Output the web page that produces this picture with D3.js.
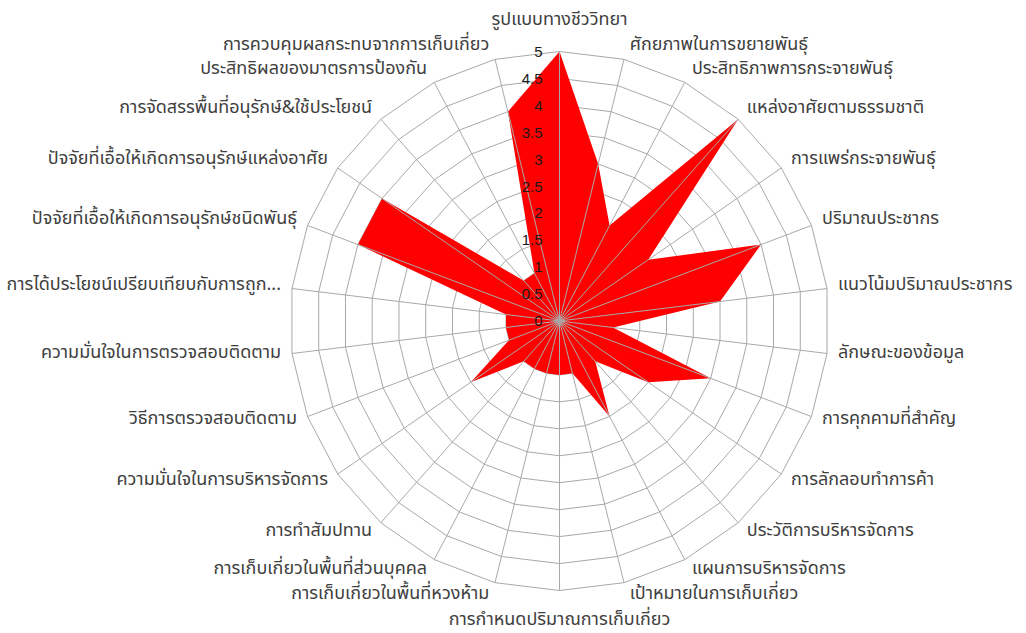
<!DOCTYPE html>
<html>
<head>
<meta charset="utf-8">
<script src="https://cdn.jsdelivr.net/npm/d3@7"></script>
<style>
  html, body { margin: 0; padding: 0; background: #ffffff; }
  svg { display: block; }
  .cat { font-family: "Leelawadee UI", "Noto Sans Thai", "Tahoma", "Noto Sans", sans-serif; font-size: 18px; fill: #404040; }
  .tick { font-family: "Liberation Sans", "Noto Sans", sans-serif; font-size: 15px; fill: #1a1a1a; }
</style>
</head>
<body>
<svg id="chart" width="1026" height="633"></svg>
<script>
// Radar axes, clockwise from the top
const categories = [
  "รูปแบบทางชีววิทยา",
  "ศักยภาพในการขยายพันธุ์",
  "ประสิทธิภาพการกระจายพันธุ์",
  "แหล่งอาศัยตามธรรมชาติ",
  "การแพร่กระจายพันธุ์",
  "ปริมาณประชากร",
  "แนวโน้มปริมาณประชากร",
  "ลักษณะของข้อมูล",
  "การคุกคามที่สำคัญ",
  "การลักลอบทำการค้า",
  "ประวัติการบริหารจัดการ",
  "แผนการบริหารจัดการ",
  "เป้าหมายในการเก็บเกี่ยว",
  "การกำหนดปริมาณการเก็บเกี่ยว",
  "การเก็บเกี่ยวในพื้นที่หวงห้าม",
  "การเก็บเกี่ยวในพื้นที่ส่วนบุคคล",
  "การทำสัมปทาน",
  "ความมั่นใจในการบริหารจัดการ",
  "วิธีการตรวจสอบติดตาม",
  "ความมั่นใจในการตรวจสอบติดตาม",
  "การได้ประโยชน์เปรียบเทียบกับการถูก...",
  "ปัจจัยที่เอื้อให้เกิดการอนุรักษ์ชนิดพันธุ์",
  "ปัจจัยที่เอื้อให้เกิดการอนุรักษ์แหล่งอาศัย",
  "การจัดสรรพื้นที่อนุรักษ์&ใช้ประโยชน์",
  "ประสิทธิผลของมาตรการป้องกัน",
  "การควบคุมผลกระทบจากการเก็บเกี่ยว"
];

// Score on each axis
const scores = [5, 3, 2, 5, 2, 4, 3, 1, 3, 2, 1, 2, 1, 1, 1, 1, 1, 2, 1, 1, 1, 4, 4, 1, 1, 4];

// Radial axis ticks
const tickValues = [0, 0.5, 1, 1.5, 2, 2.5, 3, 3.5, 4, 4.5, 5];
const tickLabels = ["0", "0.5", "1", "1.5", "2", "2.5", "3", "3.5", "4", "4.5", "5"];

const cx = 559.5, cy = 321, R = 269.5;
const n = categories.length;

const svg = d3.select("#chart");
const g = svg.append("g").attr("transform", `translate(${cx},${cy})`);

const r = d3.scaleLinear().domain([0, 5]).range([0, R]);
const angle = d3.scaleLinear().domain([0, n]).range([0, 2 * Math.PI]);
const idx = d3.range(n);

const ringLine = d3.lineRadial()
  .angle(i => angle(i))
  .curve(d3.curveLinearClosed);

const gridColor = "#a9a9a9";

// Concentric polygon gridlines
g.append("g").selectAll("path")
  .data(tickValues.filter(v => v > 0))
  .join("path")
  .attr("d", v => ringLine.radius(() => r(v))(idx))
  .attr("fill", "none")
  .attr("stroke", gridColor)
  .attr("stroke-width", 1);

// Filled series area
const areaLine = d3.lineRadial()
  .angle((d, i) => angle(i))
  .radius(d => r(d))
  .curve(d3.curveLinearClosed);

g.append("path")
  .datum(scores)
  .attr("d", areaLine)
  .attr("fill", "#ff0000")
  .attr("stroke", "none");

// Spokes
g.append("g").selectAll("line")
  .data(idx)
  .join("line")
  .attr("x1", 0).attr("y1", 0)
  .attr("x2", i => r(5) * Math.sin(angle(i)))
  .attr("y2", i => -r(5) * Math.cos(angle(i)))
  .attr("stroke", gridColor)
  .attr("stroke-width", 1);

// Value labels along the vertical axis
g.append("g").selectAll("text")
  .data(tickValues)
  .join("text")
  .attr("class", "tick")
  .attr("x", -17)
  .attr("y", v => -r(v))
  .attr("dy", "0.35em")
  .attr("text-anchor", "end")
  .text((v, i) => tickLabels[i]);

// Category labels around the outer ring
g.append("g").selectAll("text")
  .data(idx)
  .join("text")
  .attr("class", "cat")
  .each(function (i) {
    const a = angle(i);
    const s = Math.sin(a), c = Math.cos(a);
    const ex = R * s, ey = -R * c;
    const el = d3.select(this);
    if (Math.abs(s) < 0.01) {
      el.attr("text-anchor", "middle")
        .attr("x", ex)
        .attr("y", ey - (c > 0 ? 33 : -28))
        .attr("dy", "0.35em");
    } else {
      const gap = 4 + 7 * Math.abs(s);
      el.attr("text-anchor", s > 0 ? "start" : "end")
        .attr("x", ex + Math.sign(s) * gap)
        .attr("y", ey - c * 13 - 3)
        .attr("dy", "0.35em");
    }
  })
  .text(i => categories[i]);
</script>
</body>
</html>
